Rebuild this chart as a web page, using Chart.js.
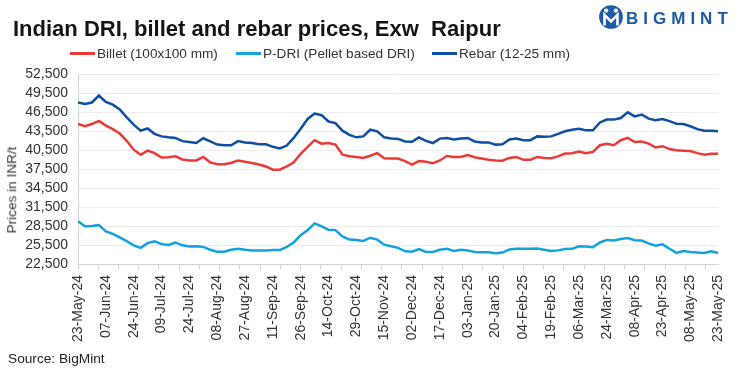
<!DOCTYPE html>
<html>
<head>
<meta charset="utf-8">
<script src="https://cdn.jsdelivr.net/npm/chart.js@4.4.1/dist/chart.umd.min.js"></script>
<style>
html,body{margin:0;padding:0;background:#fff;}
#wrap{position:relative;width:741px;height:375px;overflow:hidden;font-family:"Liberation Sans",Arial,sans-serif;}
canvas{position:absolute;left:0;top:0;}
.t{position:absolute;white-space:pre;line-height:1;}
#title{left:13px;top:18px;font-size:22px;font-weight:bold;color:#141414;}
.lg{position:absolute;height:2.6px;top:52px;width:25px;}
.lt{top:47px;font-size:13.6px;color:#333;}
#src{left:8px;top:352px;font-size:13.7px;color:#222;}
#ytitle{left:12px;top:190px;font-size:13.6px;color:#333;transform:translate(-50%,-50%) rotate(-90deg);}
#logoTxt{left:626px;top:10px;font-size:17px;font-weight:bold;color:#1d5ba6;letter-spacing:5px;}
#logoIcon{position:absolute;left:598px;top:3px;}
</style>
</head>
<body>
<div id="wrap">
  <canvas id="c" width="741" height="375"></canvas>
  <div class="t" id="title">Indian DRI, billet and rebar prices, Exw  Raipur</div>
  <svg id="logoIcon" width="26" height="28" viewBox="0 0 24 26">
    <circle cx="12" cy="13" r="11" fill="#1d5ba6"/>
    <circle cx="7.5" cy="7" r="2" fill="#fff"/>
    <circle cx="16.5" cy="7" r="2" fill="#fff"/>
    <path d="M6 21 L6 11 L12 17 L18 11 L18 21" stroke="#fff" stroke-width="2.4" fill="none"/>
  </svg>
  <div class="t" id="logoTxt">BIGMINT</div>
  <div class="t" id="ytitle">Prices in INR/t</div>
  <div class="t" id="src">Source: BigMint</div>
  <div id="legend"></div>
</div>
<script>
// ---- data ----
const dateLabels = ['23-May-24','07-Jun-24','24-Jun-24','09-Jul-24','24-Jul-24','08-Aug-24','27-Aug-24','11-Sep-24','26-Sep-24','14-Oct-24','29-Oct-24','15-Nov-24','02-Dec-24','17-Dec-24','03-Jan-25','20-Jan-25','04-Feb-25','19-Feb-25','06-Mar-25','24-Mar-25','08-Apr-25','23-Apr-25','08-May-25','23-May-25'];
const seriesNames = ['Billet (100x100 mm)', 'P-DRI (Pellet based DRI)', 'Rebar (12-25 mm)'];

const billet = [44600,44250,44600,45100,44350,43800,43100,41950,40550,39750,40400,40000,39300,39350,39500,39000,38850,38850,39400,38550,38250,38250,38450,38850,38650,38450,38200,37900,37400,37400,
37900,38550,39900,41000,42050,41500,41600,41350,39750,39500,39400,39250,39600,40000,39200,39150,39150,38750,38200,38750,38650,38400,38850,39550,39400,39400,39700,39350,39150,38950,38850,
38800,39250,39400,38950,38950,39400,39250,39200,39500,39950,40000,40250,40000,40200,41250,41500,41250,42050,42400,41750,41850,41500,40900,41100,40650,40450,40400,40350,40000,39750,39900,39900];

const pdri = [29250,28450,28500,28650,27650,27250,26700,26100,25450,25050,25800,26100,25650,25500,25900,25450,25250,25300,25200,24750,24450,24450,24750,24900,24750,24650,24650,24650,24700,24700,
25200,25900,27050,27850,28900,28450,27900,27850,26850,26350,26300,26150,26650,26350,25550,25300,25050,24500,24450,24850,24400,24400,24750,24900,24550,24750,24650,24400,24350,24350,24200,
24300,24800,24900,24900,24900,24950,24750,24550,24650,24850,24900,25300,25250,25150,25900,26300,26200,26450,26600,26250,26200,25750,25400,25600,24900,24250,24550,24400,24300,24250,24500,24250];

const rebar = [48000,47750,48000,49100,48100,47650,46900,45650,44500,43550,43900,43050,42650,42500,42400,41900,41750,41600,42350,41850,41350,41250,41250,41900,41700,41600,41400,41400,41000,40750,
41200,42400,43850,45400,46250,46000,45000,44750,43550,42900,42500,42650,43700,43450,42500,42300,42250,41850,41800,42500,41950,41600,42300,42400,42150,42300,42400,41850,41700,41700,41350,
41400,42150,42300,42050,42050,42650,42600,42650,43050,43450,43700,43850,43600,43600,44850,45300,45300,45550,46450,45800,46100,45450,45200,45400,45050,44650,44600,44250,43800,43550,43550,43450];

const DAYS_PER_LABEL = 11;   // trading days between date labels
const DAYS_PER_TICK = 8;     // trading days between tick marks
const colors = ['#EB3B36', '#12A2DD', '#0E4FA1'];

// ---- legend (HTML) ----
const legendX = [70, 236, 432];
const legend = document.getElementById('legend');
seriesNames.forEach((n, i) => {
  const l = document.createElement('div');
  l.className = 'lg'; l.style.left = legendX[i] + 'px'; l.style.background = colors[i];
  legend.appendChild(l);
  const t = document.createElement('div');
  t.className = 't lt'; t.style.left = (legendX[i] + 27) + 'px'; t.textContent = n;
  legend.appendChild(t);
});

// ---- chart ----
const LAST = (dateLabels.length - 1) * DAYS_PER_LABEL;
const toXY = arr => arr.map((v, i) => ({x: i * LAST / (arr.length - 1), y: v}));
const seriesData = [billet, pdri, rebar];

new Chart(document.getElementById('c').getContext('2d'), {
  type: 'line',
  data: {
    datasets: seriesData.map((d, i) => ({
      label: seriesNames[i], data: toXY(d), borderColor: colors[i], backgroundColor: colors[i],
      borderWidth: 2.5, pointRadius: 0, tension: 0, fill: false
    }))
  },
  options: {
    responsive: false, animation: false, devicePixelRatio: 1,
    layout: {padding: {top: 74, right: 14, bottom: 0, left: 0}},
    plugins: {legend: {display: false}, tooltip: {enabled: false}, title: {display: false}},
    scales: {
      x: {
        type: 'linear', min: 0, max: LAST,
        afterFit(s) { s.height = 111; },
        ticks: {
          stepSize: 1, autoSkip: false, maxRotation: 90, minRotation: 90, padding: 6,
          color: '#333', font: {family: "'Liberation Sans', Arial, sans-serif", size: 14},
          callback(v) { return (v % DAYS_PER_LABEL === 0) ? dateLabels[v / DAYS_PER_LABEL] : ''; }
        },
        grid: {
          drawOnChartArea: false, drawTicks: true, tickLength: 5,
          tickColor: c => (c.tick && c.tick.value % DAYS_PER_TICK === 0) ? '#d4d4d4' : 'rgba(0,0,0,0)'
        },
        border: {display: true, color: '#d4d4d4', width: 1}
      },
      y: {
        min: 22500, max: 52500,
        afterFit(s) { s.width = 78; },
        ticks: {
          stepSize: 3000, autoSkip: false, padding: 10, color: '#333',
          font: {family: "'Liberation Sans', Arial, sans-serif", size: 14},
          callback: v => v.toLocaleString('en-US')
        },
        grid: {color: '#ededed', drawTicks: false},
        border: {display: true, color: '#d4d4d4'}
      }
    }
  }
});
</script>
</body>
</html>
